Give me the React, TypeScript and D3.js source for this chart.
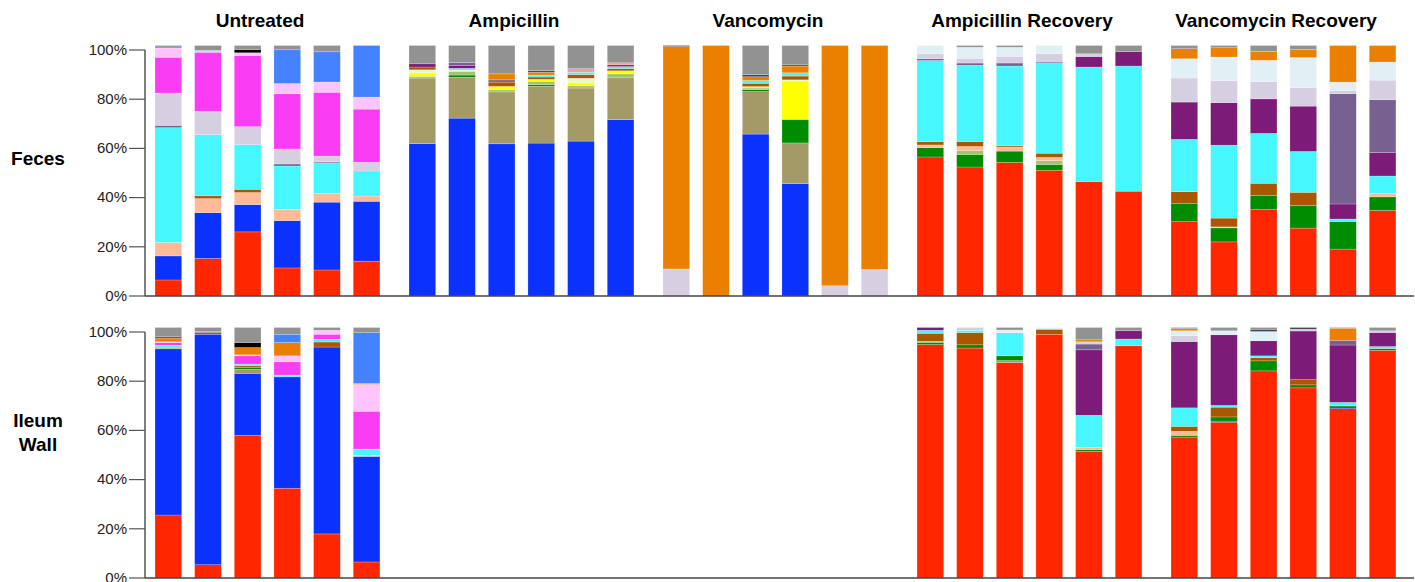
import React from 'react';
import * as d3 from 'd3';

type Sample = { [k: string]: number };

// taxa, bottom -> top stacking order
const taxa = ['lav0', 'red', 'blue', 'khaki', 'green', 'lgreen', 'yellow', 'cream', 'peach', 'brown', 'cyan', 'purple', 'salmon', 'slate', 'lav', 'pale', 'magenta', 'pink', 'orange', 'sky', 'black', 'dkbrown', 'gray'];
const taxonColors = ['#d6cfe1', '#ff2600', '#0b31ff', '#a49a67', '#008c00', '#a3c46f', '#ffff00', '#eaf8c8', '#ffbb99', '#aa5800', '#46f7ff', '#7d1b78', '#ff9a9a', '#766190', '#d6cfe1', '#e1f0f5', '#fa3cf5', '#ffc4fb', '#eb8000', '#4482ff', '#000000', '#4a4458', '#929292'];

const panels = ['Untreated', 'Ampicillin', 'Vancomycin', 'Ampicillin Recovery', 'Vancomycin Recovery'];
const tickValues = [0, 0.2, 0.4, 0.6, 0.8, 1];

const fecesUntreated: Sample[] = [
  { red: 6.4, blue: 9.6, peach: 5.4, cyan: 45.8, slate: 0.9, lav: 12.9, magenta: 14.3, pink: 3.7, sky: 0.4, gray: 0.6 },
  { red: 15.0, blue: 18.3, peach: 5.6, brown: 1.1, cyan: 24.4, lav: 9.3, magenta: 23.6, pink: 0.7, gray: 2.0 },
  { red: 25.6, blue: 10.9, peach: 4.8, brown: 1.3, cyan: 17.8, lav: 7.2, magenta: 28.4, pink: 1.1, black: 1.3, gray: 1.6 },
  { red: 11.2, blue: 18.9, peach: 4.5, cyan: 17.3, slate: 0.8, lav: 6.0, magenta: 22.0, pink: 4.1, sky: 13.5, gray: 1.7 },
  { red: 10.4, blue: 27.1, peach: 3.5, cyan: 12.2, slate: 0.4, lav: 2.3, magenta: 25.5, pink: 4.1, sky: 12.1, gray: 2.5 },
  { red: 13.9, blue: 23.9, peach: 2.1, cyan: 10.0, lav: 3.5, magenta: 21.2, pink: 4.8, sky: 20.6 },
];
const fecesAmpicillin: Sample[] = [
  { blue: 60.8, khaki: 26.2, lgreen: 0.7, yellow: 1.3, cream: 1.3, brown: 1.1, purple: 1.3, gray: 7.3 },
  { blue: 71.0, khaki: 16.3, green: 0.9, lgreen: 1.5, cream: 0.5, cyan: 0.7, purple: 1.2, slate: 1.1, gray: 6.8 },
  { blue: 60.7, khaki: 20.7, lgreen: 0.9, yellow: 1.3, brown: 1.7, slate: 0.9, orange: 2.4, gray: 11.3 },
  { blue: 61.1, khaki: 22.7, green: 0.7, lgreen: 1.3, yellow: 0.8, brown: 0.9, cyan: 0.8, orange: 1.1, dkbrown: 0.7, gray: 10.0 },
  { blue: 61.9, khaki: 21.2, lgreen: 0.9, yellow: 1.1, cream: 1.9, brown: 1.5, cyan: 0.9, salmon: 1.1, slate: 0.4, gray: 9.2 },
  { blue: 70.4, khaki: 16.7, lgreen: 1.6, yellow: 1.2, brown: 0.9, cyan: 0.8, purple: 0.7, salmon: 0.8, gray: 6.9 },
];
const fecesVancomycin: Sample[] = [
  { lav0: 10.8, orange: 88.8, dkbrown: 0.4 },
  { orange: 100 },
  { blue: 64.7, khaki: 17.0, green: 0.8, lgreen: 0.6, yellow: 0.6, brown: 1.3, cyan: 1.1, orange: 1.5, dkbrown: 0.9, gray: 11.6 },
  { blue: 44.9, khaki: 16.2, green: 9.4, yellow: 15.3, cream: 0.5, brown: 1.5, cyan: 1.3, orange: 2.7, dkbrown: 0.5, gray: 7.7 },
  { lav0: 4.1, orange: 95.9 },
  { lav0: 10.6, orange: 89.4 },
];
const fecesAmpRecovery: Sample[] = [
  { red: 55.5, green: 3.7, peach: 1.1, brown: 1.3, cyan: 32.4, slate: 0.7, lav: 2.0, pale: 3.3 },
  { red: 51.5, green: 5.0, lgreen: 1.6, peach: 1.6, brown: 2.0, cyan: 30.4, slate: 0.9, lav: 1.9, pale: 4.4, gray: 0.7 },
  { red: 53.4, green: 4.5, peach: 1.6, brown: 0.5, cyan: 31.9, slate: 1.2, lav: 2.7, pale: 3.6, gray: 0.7 },
  { red: 50.2, green: 2.3, lgreen: 1.5, peach: 1.3, brown: 1.7, cyan: 36.1, slate: 0.5, lav: 3.1, pale: 3.3 },
  { red: 45.7, cyan: 45.7, purple: 4.2, lav: 1.1, gray: 3.3 },
  { red: 41.8, cyan: 49.9, purple: 5.8, gray: 2.4 },
];
const fecesVancRecovery: Sample[] = [
  { red: 29.7, green: 7.2, brown: 4.8, cyan: 20.9, purple: 14.9, lav: 9.6, pale: 7.7, orange: 4.0, gray: 1.3 },
  { red: 21.6, green: 5.6, peach: 0.4, brown: 3.5, cyan: 29.1, purple: 17.0, lav: 8.8, pale: 9.4, orange: 3.7, gray: 0.9 },
  { red: 34.5, green: 5.7, brown: 4.8, cyan: 19.9, purple: 13.8, lav: 6.9, pale: 8.5, orange: 3.5, gray: 2.4 },
  { red: 27.1, green: 9.0, brown: 5.3, cyan: 16.3, purple: 18.1, lav: 7.4, pale: 12.0, orange: 3.2, gray: 1.6 },
  { red: 18.7, green: 11.0, cyan: 1.0, purple: 6.0, slate: 44.0, lav: 1.3, pale: 3.3, orange: 14.6 },
  { red: 34.1, green: 5.4, peach: 1.3, cyan: 7.0, purple: 9.4, slate: 21.0, lav: 7.8, pale: 7.2, orange: 6.6 },
];
const ileumUntreated: Sample[] = [
  { red: 25.1, blue: 66.2, lgreen: 0.7, cyan: 0.7, magenta: 1.1, pink: 0.3, orange: 1.5, dkbrown: 0.5, gray: 3.7 },
  { red: 5.3, blue: 92.0, brown: 0.7, slate: 0.4, gray: 1.6 },
  { red: 57.0, blue: 24.7, khaki: 1.6, green: 0.7, brown: 0.7, cyan: 0.7, magenta: 3.3, pink: 0.4, orange: 2.9, black: 2.0, gray: 6.0 },
  { red: 35.8, blue: 44.4, cyan: 0.7, magenta: 5.3, pink: 2.4, orange: 5.3, sky: 3.3, gray: 2.7 },
  { red: 17.6, blue: 74.6, brown: 2.0, cyan: 1.1, magenta: 2.0, pink: 1.6, gray: 1.1 },
  { red: 6.4, blue: 42.1, peach: 0.4, cyan: 2.5, magenta: 15.1, pink: 10.7, orange: 0.4, sky: 20.3, gray: 2.0 },
];
const ileumAmpRecovery: Sample[] = [
  { red: 93.0, green: 0.9, lgreen: 0.4, brown: 3.2, cyan: 1.2, purple: 1.1 },
  { red: 91.7, green: 1.3, brown: 4.9, cyan: 0.9, lav: 1.1 },
  { red: 86.0, green: 1.9, khaki: 0.8, cyan: 9.2, pale: 1.1, gray: 1.0 },
  { red: 97.3, brown: 2.0, pale: 0.7 },
  { red: 50.5, green: 0.7, peach: 0.9, cyan: 12.8, purple: 26.1, slate: 2.3, lav: 0.9, orange: 0.8, gray: 4.9 },
  { red: 92.6, cyan: 2.7, purple: 3.3, gray: 1.3 },
];
const ileumVancRecovery: Sample[] = [
  { red: 56.3, green: 0.7, peach: 1.6, brown: 2.0, cyan: 7.4, purple: 26.5, lav: 2.3, pale: 2.0, orange: 0.8, gray: 0.5 },
  { red: 62.2, blue: 0.4, green: 1.7, brown: 3.9, cyan: 0.7, purple: 28.2, pale: 1.6, gray: 1.3 },
  { red: 82.6, green: 4.0, brown: 1.3, cyan: 0.7, purple: 6.0, pale: 3.7, dkbrown: 0.9, gray: 0.7 },
  { red: 75.9, green: 1.2, brown: 2.1, purple: 19.4, lav: 0.7, dkbrown: 0.7 },
  { red: 67.6, blue: 0.7, green: 0.5, cyan: 1.3, purple: 22.9, slate: 1.9, orange: 4.8, gray: 0.3 },
  { red: 90.9, green: 0.7, cyan: 0.8, purple: 5.6, lav: 0.7, gray: 1.3 },
];

const rows = [
  { label: ['Feces'], labelAt: 0.56, bottom: 296, sets: [fecesUntreated, fecesAmpicillin, fecesVancomycin, fecesAmpRecovery, fecesVancRecovery] },
  { label: ['Ileum', 'Wall'], labelAt: 0.59, bottom: 578, sets: [ileumUntreated, [], [], ileumAmpRecovery, ileumVancRecovery] },
];

const FONT = '"Liberation Sans", Arial, Helvetica, sans-serif';

export default function App() {
  const W = 1415;
  const H = 582;
  const color = d3.scaleOrdinal<string, string>().domain(taxa).range(taxonColors);
  const panelX = d3.scaleBand<string>().domain(panels).range([133, 133 + 5 * 254]);
  const innerPad = 0.327;
  const barStep = 39.65;
  const barX = d3.scaleBand<number>().domain(d3.range(6)).range([22, 22 + barStep * (6 - innerPad)]).paddingInner(innerPad).paddingOuter(0);
  const stack = d3.stack<Sample>().keys(taxa).value((d, k) => d[k] ?? 0).offset(d3.stackOffsetExpand);
  const axisX = 145;
  const fmt = d3.format('.0%');

  return (
    <svg width={W} height={H} style={{ position: 'absolute', left: 0, top: 0, background: '#fff' }} fontFamily={FONT}>
      {panels.map((p) => (
        <text key={p} x={panelX(p)! + panelX.bandwidth() / 2} y={26.5} textAnchor="middle" fontSize={19} fontWeight="bold" fill="#000">{p}</text>
      ))}
      {rows.map((row, ri) => {
        const yAxis = d3.scaleLinear().domain([0, 1]).range([row.bottom, row.bottom - 246]);
        const yBar = d3.scaleLinear().domain([0, 1]).range([row.bottom, row.bottom - 250.5]);
        const midY = yAxis(row.labelAt);
        const lineH = 24;
        const nL = row.label.length;
        return (
          <g key={ri}>
            {row.label.map((t, li) => (
              <text key={li} x={38} y={midY + 6.5 + (li - (nL - 1) / 2) * lineH} textAnchor="middle" fontSize={19} fontWeight="bold" fill="#000">{t}</text>
            ))}
            {row.sets.map((set, pi) => {
              const series = stack(set as Sample[]);
              const x0 = panelX(panels[pi])!;
              return (
                <g key={pi}>
                  {series.map((s) => (
                    <g key={s.key} fill={color(s.key)}>
                      {s.map((d, i) => {
                        const h = yBar(d[0]) - yBar(d[1]);
                        if (!(h > 0)) return null;
                        return (
                          <rect key={i} x={x0 + barX(i)!} y={yBar(d[1])} width={barX.bandwidth()} height={h}
                            stroke="#ffffff" strokeOpacity={0.35} strokeWidth={0.6} />
                        );
                      })}
                    </g>
                  ))}
                </g>
              );
            })}
            <line x1={axisX} x2={axisX} y1={yAxis(1)} y2={yAxis(0)} stroke="#555" strokeWidth={1.5} />
            {tickValues.map((t) => (
              <g key={t}>
                <line x1={axisX - 16} x2={axisX} y1={yAxis(t)} y2={yAxis(t)} stroke="#555" strokeWidth={1.2} />
                <text x={axisX - 18} y={yAxis(t)} dy="0.32em" textAnchor="end" fontSize={15} fill="#222">{fmt(t)}</text>
              </g>
            ))}
            <line x1={axisX} x2={1414} y1={row.bottom} y2={row.bottom} stroke="#444" strokeWidth={1.6} />
          </g>
        );
      })}
    </svg>
  );
}
